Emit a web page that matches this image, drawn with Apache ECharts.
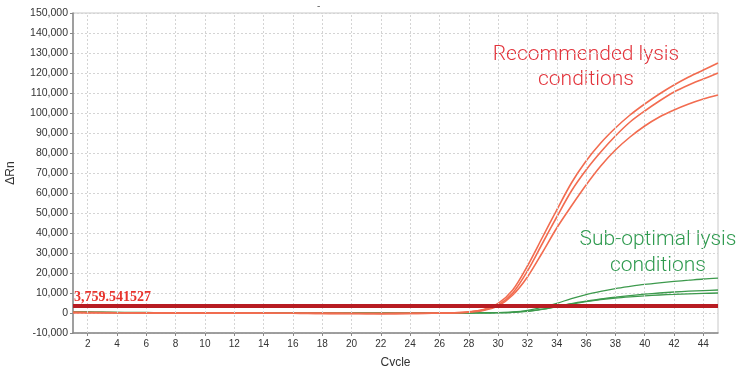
<!DOCTYPE html>
<html>
<head>
<meta charset="utf-8">
<script src="https://cdn.jsdelivr.net/npm/echarts@6/dist/echarts.min.js"></script>
<style>html,body{margin:0;padding:0;background:#fff}#c{width:752px;height:366px}</style>
</head>
<body>
<div id="c"></div>
<script>
const cycles = [1,2,3,4,5,6,7,8,9,10,11,12,13,14,15,16,17,18,19,20,21,22,23,24,25,26,27,28,29,30,31,32,33,34,35,36,37,38,39,40,41,42,43,44,45];
const xTicks = [2,4,6,8,10,12,14,16,18,20,22,24,26,28,30,32,34,36,38,40,42,44];
const threshold = 3759.541527;

const red1 = [300,250,200,150,150,100,100,50,50,0,0,0,-50,-50,-100,-100,-150,-150,-200,-200,-250,-250,-200,-150,-100,0,150,
  600,1800,4800,11500,23500,37500,51500,65000,76000,85000,92500,99000,104500,109500,114000,118000,121500,125000];
const red2 = [250,200,150,100,100,50,50,0,0,0,-50,-50,-50,-100,-100,-150,-150,-200,-200,-250,-250,-300,-250,-200,-150,-50,100,
  500,1500,4000,10000,21000,34500,48000,61000,71500,80500,88500,95500,101000,106000,110500,114000,117000,120000];
const red3 = [200,150,100,100,50,50,0,0,0,-50,-50,-100,-100,-100,-150,-150,-200,-200,-250,-250,-300,-300,-300,-250,-200,-100,50,
  400,1300,3500,9000,18000,30000,42500,53500,64000,73500,81500,88000,93500,98000,101500,104500,107000,109000];
const green1 = [600,500,400,300,300,250,200,200,150,150,100,100,100,50,50,50,0,0,0,0,0,0,0,0,0,0,0,50,100,
  200,500,1300,2800,4800,7200,9200,10800,12200,13300,14300,15100,15800,16400,17000,17400];
const green2 = [500,400,300,250,200,200,150,150,100,100,100,50,50,50,0,0,0,0,-50,-50,-50,-50,-50,0,0,0,0,0,50,
  150,350,900,1900,3300,4700,5900,7000,7900,8700,9400,10000,10500,10900,11200,11500];
const green3 = [450,350,300,200,200,150,150,100,100,50,50,50,0,0,0,0,-50,-50,-50,-100,-100,-100,-100,-50,-50,0,0,0,50,
  150,300,800,1800,3100,4500,5700,6700,7500,8100,8600,9000,9300,9600,9800,10000];

const yMin = -10000, yMax = 150000, yStep = 10000;

const RED = '#f26c50';
const GREEN = '#3d9a4d';

function pairs(arr){ return cycles.map((c,i)=>[c, arr[i]]); }
function curve(name, arr, color, w){
  return {name, type:'line', data:pairs(arr), smooth:0.3, symbol:'none',
    lineStyle:{color, width:w}, z:3, animation:false};
}

const chart = echarts.init(document.getElementById('c'));
chart.setOption({
  animation:false,
  title:{text:'-', left:312, top:-4, textStyle:{fontSize:10, color:'#666', fontWeight:'normal'}},
  grid:{left:73, right:34, top:13, bottom:33, show:true, borderColor:'#c8c8c8', borderWidth:1,
    containLabel:false, outerBoundsMode:'none'},
  xAxis:{type:'value', min:1, max:45, name:'Cycle', nameLocation:'middle', nameGap:24,
    nameTextStyle:{fontFamily:'Liberation Sans', fontSize:12, color:'#333'},
    axisLine:{show:true, onZero:false, lineStyle:{color:'#888', width:1.5}},
    axisTick:{show:true, length:3, customValues:xTicks, lineStyle:{color:'#888'}},
    axisLabel:{customValues:xTicks, fontFamily:'Liberation Sans', fontSize:10, color:'#333', margin:6},
    splitLine:{show:false}
  },
  yAxis:{type:'value', min:yMin, max:yMax, interval:yStep, name:'ΔRn', nameLocation:'middle', nameGap:56, nameRotate:90,
    nameTextStyle:{fontFamily:'Liberation Sans', fontSize:12, color:'#333'},
    axisLine:{show:true, onZero:false, lineStyle:{color:'#888', width:1.5}},
    axisTick:{show:true, length:3, lineStyle:{color:'#888'}},
    axisLabel:{fontFamily:'Liberation Sans', fontSize:10.5, color:'#333', margin:5,
      formatter:v=>v.toLocaleString('en-US')},
    splitLine:{show:true, lineStyle:{color:'#d4d4d4', type:[2,2], width:1}}
  },
  series:[
    {name:'vgrid', type:'line', data:[], silent:true,
      markLine:{symbol:'none', silent:true, label:{show:false}, animation:false,
        lineStyle:{color:'#d4d4d4', type:[2,2], width:1},
        data:xTicks.map(t=>({xAxis:t}))}, z:1},
    curve('g1', green1, GREEN, 1.3),
    curve('g2', green2, GREEN, 1.3),
    curve('g3', green3, GREEN, 1.3),
    curve('r1', red1, RED, 1.6),
    curve('r2', red2, RED, 1.6),
    curve('r3', red3, RED, 1.6),
    {name:'threshold', type:'line', data:[], z:5,
      markLine:{symbol:'none', silent:true, animation:false,
        lineStyle:{color:'#b81c22', width:3.8, type:'solid'},
        label:{show:true, position:'insideStartTop', distance:[1,1],
          formatter:()=>threshold.toLocaleString('en-US',{maximumFractionDigits:6}),
          fontFamily:'Liberation Serif', fontWeight:'bold', fontSize:14, color:'#e8352e'},
        data:[{yAxis:threshold}]}}
  ],
  graphic:[
    {type:'text', x:586, y:42, style:{text:'Recommended lysis\nconditions', textAlign:'center',
      fontFamily:'Roboto', fontWeight:300, fontSize:21, lineHeight:25, fill:'#e3343c'}},
    {type:'text', x:658, y:227, style:{text:'Sub-optimal lysis\nconditions', textAlign:'center',
      fontFamily:'Roboto', fontWeight:300, fontSize:21, lineHeight:26, fill:'#2f9a4f'}}
  ]
});
</script>
</body>
</html>
